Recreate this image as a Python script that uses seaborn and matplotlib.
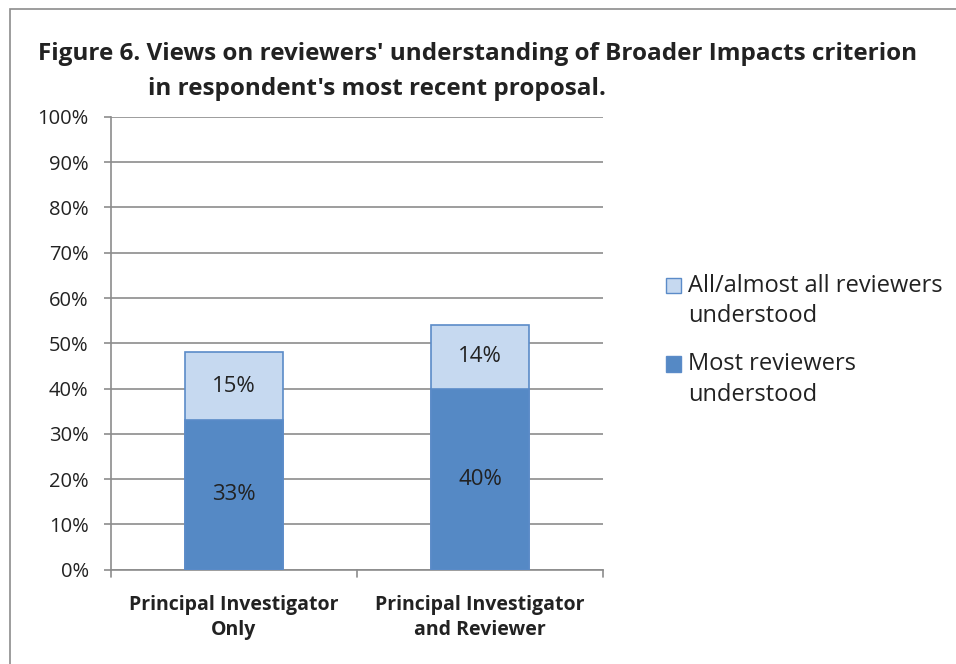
import numpy as np
import pandas as pd
import matplotlib
matplotlib.use("Agg")
import matplotlib.pyplot as plt
import matplotlib.patches as mpatches
from matplotlib.legend_handler import HandlerPatch
import seaborn as sns

# data
groups = ["Principal Investigator\nOnly", "Principal Investigator\nand Reviewer"]
most_understood = [33, 40]
all_understood = [15, 14]
series_names = ["All/almost all reviewers\nunderstood", "Most reviewers\nunderstood"]
yticks = list(range(0, 101, 10))

dark = "#5589C5"
light = "#C6D9F0"
edge = "#5B8BC8"
grid_col = "#8C8C8C"
txt = "#222222"

sns.set_theme(style="white")
plt.rcParams["font.family"] = ["Open Sans", "DejaVu Sans"]

df = pd.DataFrame({
    "Group": groups,
    "Most": most_understood,
    "All": all_understood,
})
df["Total"] = df["Most"] + df["All"]

fig = plt.figure(figsize=(9.56, 6.64), dpi=100)
ax = fig.add_axes([0.116, 0.142, 0.515, 0.682])

# light (top) segment drawn as the total, dark segment over it
sns.barplot(data=df, x="Group", y="Total", color=light, width=0.4,
            edgecolor=edge, linewidth=1.2, saturation=1, ax=ax, zorder=3)
sns.barplot(data=df, x="Group", y="Most", color=dark, width=0.4,
            edgecolor=edge, linewidth=1.2, saturation=1, ax=ax, zorder=4)

for i, row in df.iterrows():
    ax.text(i, row["Most"] / 2, f"{row['Most']}%", ha="center", va="center",
            fontsize=16, color=txt, zorder=5)
    ax.text(i, row["Most"] + row["All"] / 2, f"{row['All']}%", ha="center",
            va="center", fontsize=16, color=txt, zorder=5)

ax.set_ylim(0, 100)
ax.set_xlim(-0.5, 1.5)
ax.set_yticks(yticks)
ax.set_yticklabels([f"{t}%" for t in yticks], fontsize=14.5, color=txt)
ax.yaxis.grid(True, color=grid_col, linewidth=1.2)
ax.set_axisbelow(True)

ax.set_xticks([0, 1])
ax.set_xticklabels(groups, fontsize=14, fontweight="bold", color=txt,
                   linespacing=1.38)
ax.tick_params(axis="x", length=0, pad=18)
ax.tick_params(axis="y", length=5, color=grid_col, width=1.2, left=True, pad=11)
# category boundary ticks on the x axis
for xb in [-0.5, 0.5, 1.5]:
    ax.plot([xb, xb], [0, -1.6], color=grid_col, lw=1.2, clip_on=False)

ax.set_xlabel("")
ax.set_ylabel("")
for side in ["top", "right"]:
    ax.spines[side].set_visible(False)
for side in ["left", "bottom"]:
    ax.spines[side].set_color(grid_col)
    ax.spines[side].set_linewidth(1.2)

leg_fs = 17


def top_square(legend, orig_handle, xdescent, ydescent, width, height, fontsize):
    # put the square beside the first line of a two-line label
    return mpatches.Rectangle((-xdescent, -ydescent + fontsize * 0.68), width, height)


handles = [
    mpatches.Patch(facecolor=light, edgecolor=edge, label=series_names[0]),
    mpatches.Patch(facecolor=dark, edgecolor=edge, label=series_names[1]),
]
leg = fig.legend(handles=handles, loc="upper left", bbox_to_anchor=(0.697, 0.588),
                 frameon=False, fontsize=leg_fs, handlelength=0.62, handleheight=0.62,
                 handletextpad=0.3, labelspacing=1.02, labelcolor=txt,
                 borderaxespad=0, borderpad=0,
                 handler_map={mpatches.Patch: HandlerPatch(patch_func=top_square)})
for t in leg.get_texts():
    t.set_linespacing(1.36)

fig.text(0.5, 0.918, "Figure 6. Views on reviewers' understanding of Broader Impacts criterion",
         ha="center", va="center", fontsize=17.5, fontweight="bold", color=txt)
fig.text(0.394, 0.866, "in respondent's most recent proposal.",
         ha="center", va="center", fontsize=17.5, fontweight="bold", color=txt)

# outer chart border
fig.patches.append(mpatches.Rectangle((0.0105, -0.01), 1.0, 1.0 - 0.003,
                                      transform=fig.transFigure, fill=False,
                                      edgecolor="#8C8C8C", linewidth=1.2))

fig.savefig("out.png", dpi=100)
